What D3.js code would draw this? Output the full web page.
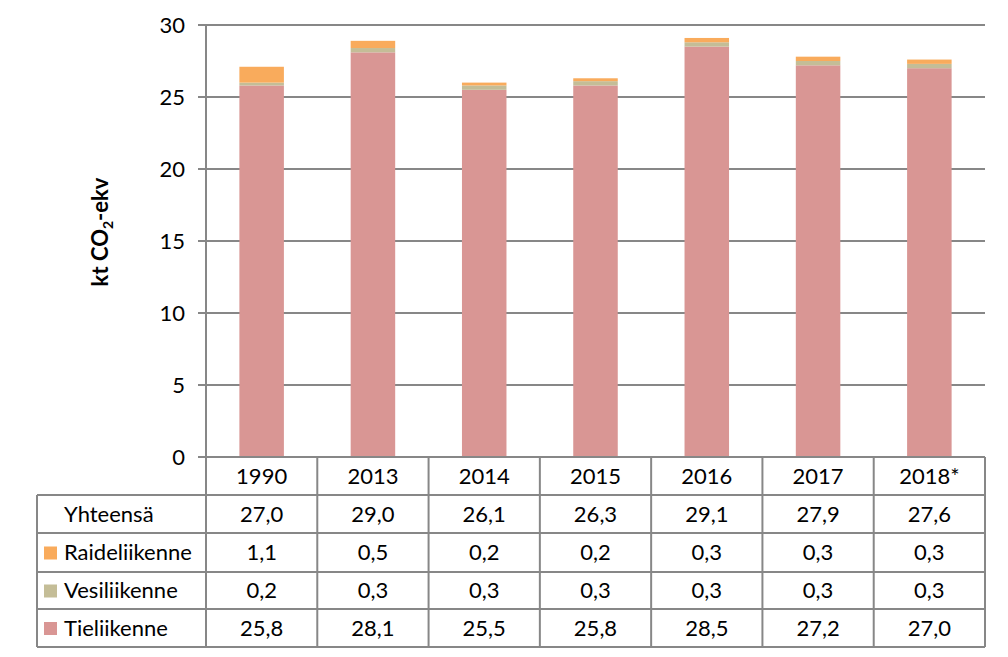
<!DOCTYPE html>
<html><head><meta charset="utf-8">
<script src="https://cdn.jsdelivr.net/npm/d3@7"></script>
<style>body{margin:0;background:#fff}svg text{font-family:Lato,"Open Sans",sans-serif;}</style>
</head><body>
<svg id="c" width="1008" height="657"></svg>
<script>
const years = ["1990","2013","2014","2015","2016","2017","2018*"];
const tieliikenne = [25.8,28.1,25.5,25.8,28.5,27.2,27.0];
const vesiliikenne = [0.2,0.3,0.3,0.3,0.3,0.3,0.3];
const raideliikenne = [1.1,0.5,0.2,0.2,0.3,0.3,0.3];
const yhteensa = [27.0,29.0,26.1,26.3,29.1,27.9,27.6];
const yTicks = [0,5,10,15,20,25,30];
const seriesNames = ["Tieliikenne","Vesiliikenne","Raideliikenne"];
const colors = {"Tieliikenne":"#D99694","Vesiliikenne":"#C4BD97","Raideliikenne":"#F9AB5C"};

const FS = 22;
const svg = d3.select("#c");
const L=206, R=985, T=25, B=457;
const x = d3.scaleBand().domain(years).range([L,R]).paddingInner(0.6).paddingOuter(0.3);
const xb = d3.scaleBand().domain(years).range([L,R]);
const y = d3.scaleLinear().domain([0,30]).range([B,T]);
const grid="#878787";

// gridlines
svg.append("g").selectAll("line").data(yTicks).join("line")
  .attr("x1",L-8).attr("x2",R).attr("y1",d=>y(d)).attr("y2",d=>y(d))
  .attr("stroke",grid).attr("stroke-width",2);
svg.append("g").selectAll("text").data(yTicks).join("text")
  .attr("x",L-21).attr("y",d=>y(d)).attr("dy","0.35em").attr("text-anchor","end")
  .attr("font-size",FS).attr("fill","#000").text(d=>d);

// stacked bars
const rows = years.map((yr,i)=>({year:yr,Tieliikenne:tieliikenne[i],Vesiliikenne:vesiliikenne[i],Raideliikenne:raideliikenne[i]}));
const stack = d3.stack().keys(seriesNames)(rows);
svg.append("g").selectAll("g").data(stack).join("g").attr("fill",d=>colors[d.key])
  .selectAll("rect").data(d=>d).join("rect")
  .attr("x",d=>x(d.data.year)).attr("width",x.bandwidth())
  .attr("y",d=>y(d[1])).attr("height",d=>y(d[0])-y(d[1]));

// y axis line
svg.append("line").attr("x1",L).attr("x2",L).attr("y1",T).attr("y2",B).attr("stroke",grid).attr("stroke-width",2);

// table
const rowY = [457,495,533,572,609,647];
const tableLeft = 37;
const tg = svg.append("g");
tg.append("line").attr("x1",L).attr("x2",R).attr("y1",rowY[0]).attr("y2",rowY[0]).attr("stroke",grid).attr("stroke-width",2);
for(let k=1;k<rowY.length;k++){
  tg.append("line").attr("x1",tableLeft).attr("x2",R).attr("y1",rowY[k]).attr("y2",rowY[k]).attr("stroke",grid).attr("stroke-width",2);
}
const bounds = years.map(d=>xb(d)).concat([R]);
bounds.forEach(bx=>{
  tg.append("line").attr("x1",bx).attr("x2",bx).attr("y1",rowY[0]).attr("y2",rowY[5]).attr("stroke",grid).attr("stroke-width",2);
});
tg.append("line").attr("x1",tableLeft).attr("x2",tableLeft).attr("y1",rowY[1]).attr("y2",rowY[5]).attr("stroke",grid).attr("stroke-width",2);

tg.selectAll("text.yr").data(years).join("text").attr("class","yr")
  .attr("x",d=>xb(d)+xb.bandwidth()/2).attr("y",(rowY[0]+rowY[1])/2).attr("dy","0.35em")
  .attr("text-anchor","middle").attr("font-size",FS).text(d=>d);

const tableRows = [
  {name:"Yhteensä",vals:yhteensa,key:null},
  {name:"Raideliikenne",vals:raideliikenne,key:"Raideliikenne"},
  {name:"Vesiliikenne",vals:vesiliikenne,key:"Vesiliikenne"},
  {name:"Tieliikenne",vals:tieliikenne,key:"Tieliikenne"}
];
const fmt = v=>v.toFixed(1).replace(".",",");
tableRows.forEach((r,ri)=>{
  const cy=(rowY[ri+1]+rowY[ri+2])/2;
  if(r.key){
    tg.append("rect").attr("x",44).attr("y",cy-6).attr("width",13).attr("height",13).attr("fill",colors[r.key]);
  }
  tg.append("text").attr("x",64).attr("y",cy).attr("dy","0.35em").attr("font-size",FS).text(r.name);
  tg.selectAll(null).data(r.vals).join("text")
    .attr("x",(d,i)=>xb(years[i])+xb.bandwidth()/2).attr("y",cy).attr("dy","0.35em")
    .attr("text-anchor","middle").attr("font-size",FS).text(d=>fmt(d));
});

// y label
const yl = svg.append("text").attr("transform","translate(108,232) rotate(-90)")
  .attr("text-anchor","middle").attr("font-size",FS).attr("font-weight","bold");
yl.append("tspan").text("kt CO");
yl.append("tspan").attr("font-size",14).attr("dy",5).text("2");
yl.append("tspan").attr("dy",-5).text("-ekv");
</script>
</body></html>
